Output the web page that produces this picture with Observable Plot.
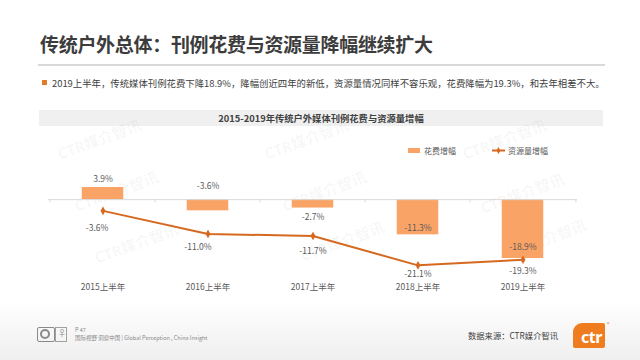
<!DOCTYPE html>
<html>
<head>
<meta charset="utf-8">
<script src="https://cdn.jsdelivr.net/npm/d3@7"></script>
<script src="https://cdn.jsdelivr.net/npm/@observablehq/plot@0.6"></script>
<style>
  html, body { margin: 0; padding: 0; background: #fff; }
  #page { position: relative; width: 640px; height: 360px; overflow: hidden; font-family: "Noto Sans CJK SC", "Noto Sans", sans-serif; color: #404040; }
  .abs { position: absolute; white-space: nowrap; }
  .wm { position: absolute; font-family: "Noto Sans", "Noto Sans CJK SC", sans-serif; font-weight: 700; font-size: 15px; color: rgba(0,0,0,0.045); transform: rotate(-20deg); white-space: nowrap; }
  #chart { position: absolute; left: 0; top: 130px; }
</style>
</head>
<body>
<div id="page">
  <div class="abs" style="left:0;top:300px;width:640px;height:60px;background:linear-gradient(to bottom, rgba(240,240,240,0), rgba(232,232,232,0.7));"></div>
  <div class="abs" style="left:40px;top:30px;font-size:19px;font-weight:700;color:#3c3c3c;letter-spacing:-0.3px;">传统户外总体：刊例花费与资源量降幅继续扩大</div>
  <div class="abs" style="left:38px;top:64px;width:567px;height:2px;background:#d9d9d9;"></div>
  <div class="abs" style="left:42px;top:80px;width:5px;height:5px;background:#e07b2a;"></div>
  <div class="abs" style="left:52px;top:76px;font-size:9.4px;color:#404040;">2019上半年，传统媒体刊例花费下降18.9%，降幅创近四年的新低，资源量情况同样不容乐观，花费降幅为19.3%，和去年相差不大。</div>

  <div class="abs" style="left:39px;top:110px;width:564px;height:16px;background:#f0f0f0;"></div>
  <div class="abs" style="left:39px;top:110px;width:564px;height:16px;line-height:16px;text-align:center;font-size:9.3px;font-weight:700;color:#404040;">2015-2019年传统户外媒体刊例花费与资源量增幅</div>

  <div class="wm" style="left:55px;top:128px;">CTR媒介智讯</div>
  <div class="wm" style="left:72px;top:180px;">CTR媒介智讯</div>
  <div class="wm" style="left:92px;top:232px;">CTR媒介智讯</div>
  <div class="wm" style="left:262px;top:128px;">CTR媒介智讯</div>
  <div class="wm" style="left:280px;top:180px;">CTR媒介智讯</div>
  <div class="wm" style="left:298px;top:230px;">CTR媒介智讯</div>
  <div class="wm" style="left:460px;top:128px;">CTR媒介智讯</div>
  <div class="wm" style="left:478px;top:182px;">CTR媒介智讯</div>
  <div class="wm" style="left:500px;top:228px;">CTR媒介智讯</div>

  <div id="legend" class="abs" style="left:408px;top:144px;font-size:8px;color:#595959;"></div>
  <div id="chart"></div>

  <div class="abs" style="left:37px;top:327px;width:18px;height:15px;border:1.5px solid #8a8a8a;border-radius:2px;box-sizing:border-box;"></div>
  <div class="abs" style="left:40px;top:329px;width:10px;height:10px;border:2px solid #8a8a8a;border-radius:50%;box-sizing:border-box;"></div>
  <div class="abs" style="left:55px;top:327px;width:12px;height:15px;border:1px solid #a0a0a0;box-sizing:border-box;"></div>
  <div class="abs" style="left:58px;top:327px;font-size:8px;color:#8a8a8a;">♀</div>
  <div class="abs" style="left:75px;top:326px;font-size:5.5px;color:#8a8a8a;">P 47</div>
  <div class="abs" style="left:75px;top:334px;font-size:5.5px;color:#8a8a8a;">国际视野 洞察中国 | Global Perception , China Insight</div>
  <div class="abs" style="left:468px;top:329px;font-size:8.3px;color:#404040;">数据来源：CTR媒介智讯</div>
  <div class="abs" style="left:573px;top:323px;width:32px;height:25px;background:#ef7d1f;border-radius:9px 2px 2px 2px;"></div>
  <div class="abs" style="left:581px;top:326px;font-family:'Noto Sans',sans-serif;font-size:16px;font-weight:700;color:#fff;letter-spacing:-0.5px;">ctr</div>
  <div class="abs" style="left:607px;top:320px;font-size:5px;color:#ef7d1f;">®</div>
</div>
<script>
const categories = ["2015上半年", "2016上半年", "2017上半年", "2018上半年", "2019上半年"];
const spendGrowth = [3.9, -3.6, -2.7, -11.3, -18.9];      // 花费增幅 (%)
const resourceGrowth = [-3.6, -11.0, -11.7, -21.1, -19.3]; // 资源量增幅 (%)
const seriesNames = ["花费增幅", "资源量增幅"];

// label placement (pixel offsets), kept apart from data
const spendLabelDy = [-8, -24.5, 9, -6.5, -11.5];
const resLabelDy = [17, 13, 15, 9, 12];
const resLabelDx = [-6, -10, 0, 0, 0];

const barColor = "#F9A466";
const lineColor = "#D6691F";
const textColor = "#595959";
const font = "'Noto Sans CJK SC', 'Noto Sans', sans-serif";

const data = categories.map((c, i) => ({cat: c, spend: spendGrowth[i], res: resourceGrowth[i], i}));
const fmt = v => v.toFixed(1) + "%";

const labelMarks = [];
data.forEach((d, i) => {
  labelMarks.push(Plot.text([d], {x: "cat", y: "spend", text: r => fmt(r.spend), dy: spendLabelDy[i], fill: textColor, fontSize: 8.5}));
  labelMarks.push(Plot.text([d], {x: "cat", y: "res", text: r => fmt(r.res), dy: resLabelDy[i], dx: resLabelDx[i], fill: textColor, fontSize: 8.5}));
});

const W = 640, ML = 48, MR = 63;
const bw = (W - ML - MR) / categories.length;

const chart = Plot.plot({
  width: W, height: 175,
  marginLeft: ML, marginRight: MR, marginTop: 38, marginBottom: 28,
  x: {domain: categories, padding: 0, axis: null},
  y: {domain: [-25, 10], axis: null},
  style: {fontFamily: font, fontSize: "8.5px", color: textColor, background: "transparent", overflow: "visible"},
  marks: [
    Plot.barY(data, {x: "cat", y: "spend", fill: barColor, insetLeft: bw * 0.3, insetRight: bw * 0.3}),
    Plot.ruleY([0], {stroke: "#d9d9d9", strokeWidth: 1}),
    Plot.ruleX(categories, {x: d => d, dx: -bw / 2, y1: 0, y2: -1, stroke: "#d9d9d9"}),
    Plot.ruleX(categories.slice(-1), {x: d => d, dx: bw / 2, y1: 0, y2: -1, stroke: "#d9d9d9"}),
    Plot.line(data, {x: "cat", y: "res", stroke: lineColor, strokeWidth: 2}),
    Plot.dot(data, {x: "cat", y: "res", symbol: "diamond", r: 2.6, fill: lineColor}),
    ...labelMarks,
    Plot.axisX({anchor: "bottom", tickSize: 0, tickPadding: 6, fontSize: 8.5, fill: textColor, label: null})
  ]
});
document.getElementById("chart").appendChild(chart);

// legend
const lg = d3.select("#legend").append("svg").attr("width", 150).attr("height", 14).style("overflow", "visible");
lg.append("rect").attr("x", 0).attr("y", 4).attr("width", 12).attr("height", 5).attr("fill", barColor);
lg.append("text").attr("x", 16).attr("y", 10).attr("font-size", 8).attr("fill", textColor).attr("font-family", font).text(seriesNames[0]);
lg.append("line").attr("x1", 84).attr("x2", 97).attr("y1", 6.5).attr("y2", 6.5).attr("stroke", lineColor).attr("stroke-width", 2);
lg.append("path").attr("d", d3.symbol(d3.symbolDiamond, 14)()).attr("transform", "translate(90.5,6.5)").attr("fill", lineColor);
lg.append("text").attr("x", 100).attr("y", 10).attr("font-size", 8).attr("fill", textColor).attr("font-family", font).text(seriesNames[1]);
</script>
</body>
</html>
